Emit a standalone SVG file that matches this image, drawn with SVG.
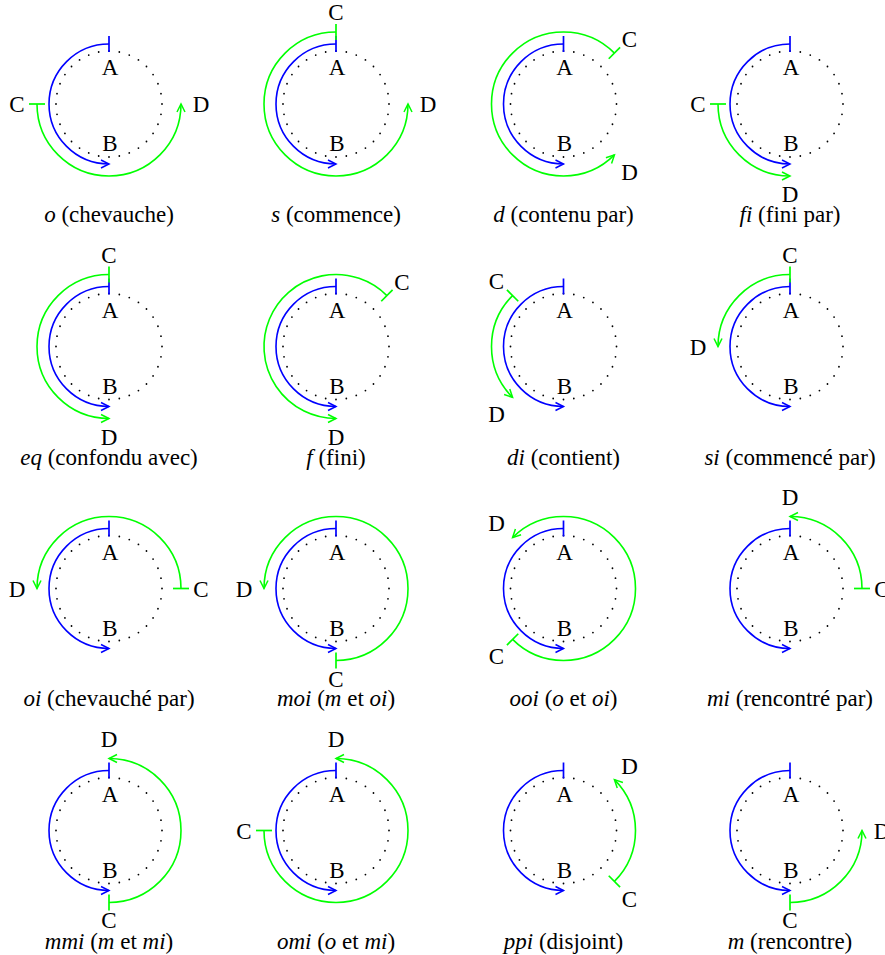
<svg xmlns="http://www.w3.org/2000/svg" width="885" height="955" viewBox="0 0 885 955" font-family="'Liberation Serif','Times New Roman',serif">
<style>
.dot{fill:none;stroke:#000;stroke-width:1.8;stroke-linecap:round;stroke-dasharray:0 1}
.b{fill:none;stroke:#0000ff;stroke-width:1.6;marker-start:url(#tb);marker-end:url(#ab)}
.g{fill:none;stroke:#00ff00;stroke-width:1.6;marker-start:url(#tg);marker-end:url(#ag)}
text{font-family:"Liberation Serif","Times New Roman",serif;font-size:23px;text-anchor:middle;fill:#000}
.m{font-style:italic}
</style>
<defs>
<marker id="ab" viewBox="-10 -6 12 12" markerWidth="12" markerHeight="12" refX="0" refY="0" orient="auto" markerUnits="userSpaceOnUse"><path d="M-8,-4 Q-2,-1 0,0 Q-2,1 -8,4" fill="none" stroke="#0000ff" stroke-width="1.5"/></marker>
<marker id="ag" viewBox="-10 -6 12 12" markerWidth="12" markerHeight="12" refX="0" refY="0" orient="auto" markerUnits="userSpaceOnUse"><path d="M-8,-4 Q-2,-1 0,0 Q-2,1 -8,4" fill="none" stroke="#00ff00" stroke-width="1.5"/></marker>
<marker id="tb" viewBox="-3 -10 6 20" markerWidth="6" markerHeight="20" refX="0" refY="0" orient="auto" markerUnits="userSpaceOnUse"><path d="M0,-8 V8" stroke="#0000ff" stroke-width="1.7"/></marker>
<marker id="tg" viewBox="-3 -10 6 20" markerWidth="6" markerHeight="20" refX="0" refY="0" orient="auto" markerUnits="userSpaceOnUse"><path d="M0,-8 V8" stroke="#00ff00" stroke-width="1.7"/></marker>
</defs>

<g id="p-o" transform="translate(109,104)">
<circle class="dot" r="53" pathLength="32"/>
<path class="b" d="M0,-60 A60,60 0 0 0 0,60"/>
<path class="g" d="M-72,0 A72,72 0 0 0 72,0"/>
<text x="1" y="-29">A</text><text x="1" y="47">B</text>
<text x="-92" y="8">C</text><text x="92" y="8">D</text>
<text y="118"><tspan class="m">o</tspan> (chevauche)</text>
</g>

<g id="p-s" transform="translate(336,104)">
<circle class="dot" r="53" pathLength="32"/>
<path class="b" d="M0,-60 A60,60 0 0 0 0,60"/>
<path class="g" d="M0,-72 A72,72 0 1 0 72,0"/>
<text x="1" y="-29">A</text><text x="1" y="47">B</text>
<text x="0" y="-84">C</text><text x="92" y="8">D</text>
<text y="118"><tspan class="m">s</tspan> (commence)</text>
</g>

<g id="p-d" transform="translate(563.5,104)">
<circle class="dot" r="53" pathLength="32"/>
<path class="b" d="M0,-60 A60,60 0 0 0 0,60"/>
<path class="g" d="M50.91,-50.91 A72,72 0 1 0 50.91,50.91"/>
<text x="1" y="-29">A</text><text x="1" y="47">B</text>
<text x="66" y="-57">C</text><text x="66" y="76">D</text>
<text y="118"><tspan class="m">d</tspan> (contenu par)</text>
</g>

<g id="p-fi" transform="translate(790,104)">
<circle class="dot" r="53" pathLength="32"/>
<path class="b" d="M0,-60 A60,60 0 0 0 0,60"/>
<path class="g" d="M-72,0 A72,72 0 0 0 0,72"/>
<text x="1" y="-29">A</text><text x="1" y="47">B</text>
<text x="-92" y="8">C</text><text x="0" y="98">D</text>
<text y="118"><tspan class="m">fi</tspan> (fini par)</text>
</g>

<g id="p-eq" transform="translate(109,346.5)">
<circle class="dot" r="53" pathLength="32"/>
<path class="b" d="M0,-60 A60,60 0 0 0 0,60"/>
<path class="g" d="M0,-72 A72,72 0 0 0 0,72"/>
<text x="1" y="-29">A</text><text x="1" y="47">B</text>
<text x="0" y="-84">C</text><text x="0" y="98">D</text>
<text y="118"><tspan class="m">eq</tspan> (confondu avec)</text>
</g>

<g id="p-f" transform="translate(336,346.5)">
<circle class="dot" r="53" pathLength="32"/>
<path class="b" d="M0,-60 A60,60 0 0 0 0,60"/>
<path class="g" d="M50.91,-50.91 A72,72 0 1 0 0,72"/>
<text x="1" y="-29">A</text><text x="1" y="47">B</text>
<text x="66" y="-57">C</text><text x="0" y="98">D</text>
<text y="118"><tspan class="m">f</tspan> (fini)</text>
</g>

<g id="p-di" transform="translate(563.5,346.5)">
<circle class="dot" r="53" pathLength="32"/>
<path class="b" d="M0,-60 A60,60 0 0 0 0,60"/>
<path class="g" d="M-50.91,-50.91 A72,72 0 0 0 -50.91,50.91"/>
<text x="1" y="-29">A</text><text x="1" y="47">B</text>
<text x="-67" y="-58">C</text><text x="-67" y="75">D</text>
<text y="118"><tspan class="m">di</tspan> (contient)</text>
</g>

<g id="p-si" transform="translate(790,346.5)">
<circle class="dot" r="53" pathLength="32"/>
<path class="b" d="M0,-60 A60,60 0 0 0 0,60"/>
<path class="g" d="M0,-72 A72,72 0 0 0 -72,0"/>
<text x="1" y="-29">A</text><text x="1" y="47">B</text>
<text x="0" y="-84">C</text><text x="-92" y="8">D</text>
<text y="118"><tspan class="m">si</tspan> (commencé par)</text>
</g>

<g id="p-oi" transform="translate(109,588.5)">
<circle class="dot" r="53" pathLength="32"/>
<path class="b" d="M0,-60 A60,60 0 0 0 0,60"/>
<path class="g" d="M72,0 A72,72 0 0 0 -72,0"/>
<text x="1" y="-29">A</text><text x="1" y="47">B</text>
<text x="92" y="8">C</text><text x="-92" y="8">D</text>
<text y="117"><tspan class="m">oi</tspan> (chevauché par)</text>
</g>

<g id="p-moi" transform="translate(336,588.5)">
<circle class="dot" r="53" pathLength="32"/>
<path class="b" d="M0,-60 A60,60 0 0 0 0,60"/>
<path class="g" d="M0,72 A72,72 0 1 0 -72,0"/>
<text x="1" y="-29">A</text><text x="1" y="47">B</text>
<text x="0" y="98">C</text><text x="-92" y="8">D</text>
<text y="117"><tspan class="m">moi</tspan> (<tspan class="m">m</tspan> et <tspan class="m">oi</tspan>)</text>
</g>

<g id="p-ooi" transform="translate(563.5,588.5)">
<circle class="dot" r="53" pathLength="32"/>
<path class="b" d="M0,-60 A60,60 0 0 0 0,60"/>
<path class="g" d="M-50.91,50.91 A72,72 0 1 0 -50.91,-50.91"/>
<text x="1" y="-29">A</text><text x="1" y="47">B</text>
<text x="-67" y="75">C</text><text x="-67" y="-58">D</text>
<text y="117"><tspan class="m">ooi</tspan> (<tspan class="m">o</tspan> et <tspan class="m">oi</tspan>)</text>
</g>

<g id="p-mi" transform="translate(790,588.5)">
<circle class="dot" r="53" pathLength="32"/>
<path class="b" d="M0,-60 A60,60 0 0 0 0,60"/>
<path class="g" d="M72,0 A72,72 0 0 0 0,-72"/>
<text x="1" y="-29">A</text><text x="1" y="47">B</text>
<text x="92" y="8">C</text><text x="0" y="-84">D</text>
<text y="117"><tspan class="m">mi</tspan> (rencontré par)</text>
</g>

<g id="p-mmi" transform="translate(109,830.5)">
<circle class="dot" r="53" pathLength="32"/>
<path class="b" d="M0,-60 A60,60 0 0 0 0,60"/>
<path class="g" d="M0,72 A72,72 0 0 0 0,-72"/>
<text x="1" y="-29">A</text><text x="1" y="47">B</text>
<text x="0" y="97">C</text><text x="0" y="-84">D</text>
<text y="118"><tspan class="m">mmi</tspan> (<tspan class="m">m</tspan> et <tspan class="m">mi</tspan>)</text>
</g>

<g id="p-omi" transform="translate(336,830.5)">
<circle class="dot" r="53" pathLength="32"/>
<path class="b" d="M0,-60 A60,60 0 0 0 0,60"/>
<path class="g" d="M-72,0 A72,72 0 1 0 0,-72"/>
<text x="1" y="-29">A</text><text x="1" y="47">B</text>
<text x="-92" y="8">C</text><text x="0" y="-84">D</text>
<text y="118"><tspan class="m">omi</tspan> (<tspan class="m">o</tspan> et <tspan class="m">mi</tspan>)</text>
</g>

<g id="p-ppi" transform="translate(563.5,830.5)">
<circle class="dot" r="53" pathLength="32"/>
<path class="b" d="M0,-60 A60,60 0 0 0 0,60"/>
<path class="g" d="M50.91,50.91 A72,72 0 0 0 50.91,-50.91"/>
<text x="1" y="-29">A</text><text x="1" y="47">B</text>
<text x="66" y="76">C</text><text x="66" y="-57">D</text>
<text y="118"><tspan class="m">ppi</tspan> (disjoint)</text>
</g>

<g id="p-m" transform="translate(790,830.5)">
<circle class="dot" r="53" pathLength="32"/>
<path class="b" d="M0,-60 A60,60 0 0 0 0,60"/>
<path class="g" d="M0,72 A72,72 0 0 0 72,0"/>
<text x="1" y="-29">A</text><text x="1" y="47">B</text>
<text x="0" y="97">C</text><text x="92" y="8">D</text>
<text y="118"><tspan class="m">m</tspan> (rencontre)</text>
</g>
</svg>
